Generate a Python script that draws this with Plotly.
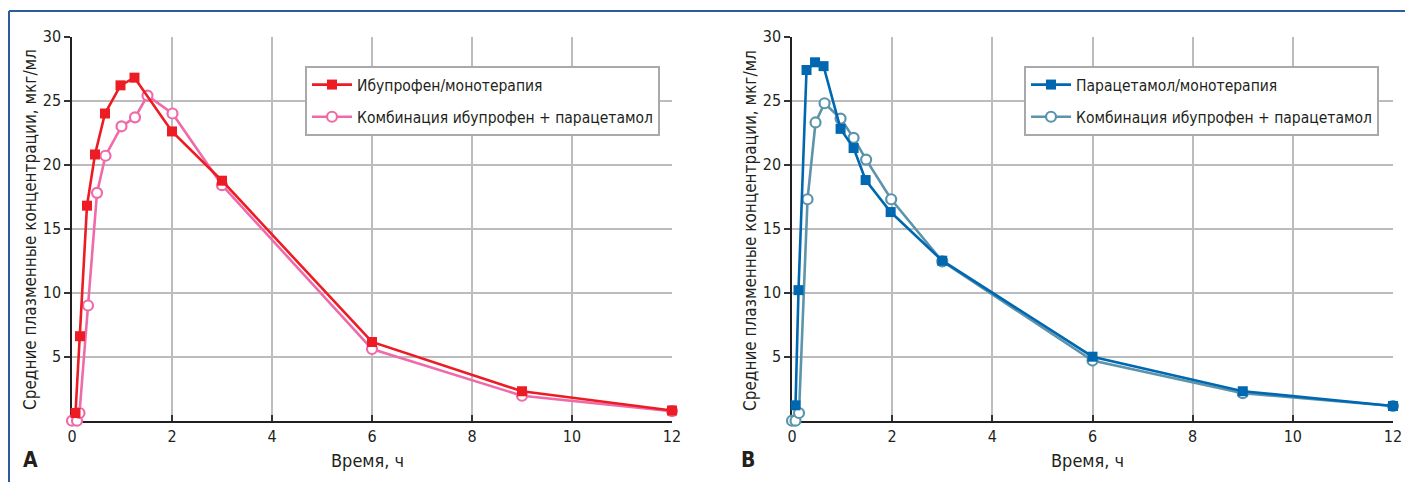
import plotly.graph_objects as go

# ---- Data ----
# Panel A: ibuprofen
ibu_mono_t = [0.07, 0.16, 0.30, 0.46, 0.66, 0.97, 1.25, 2.0, 3.0, 6.0, 9.0, 12.0]
ibu_mono_c = [0.6, 6.6, 16.8, 20.8, 24.0, 26.2, 26.8, 22.6, 18.75, 6.15, 2.3, 0.8]
ibu_combo_t = [0.0, 0.1, 0.15, 0.32, 0.5, 0.67, 0.99, 1.26, 1.51, 2.01, 3.0, 6.0, 9.0, 12.0]
ibu_combo_c = [0.0, 0.0, 0.6, 9.0, 17.8, 20.7, 23.0, 23.7, 25.4, 24.0, 18.4, 5.6, 1.95, 0.75]

# Panel B: paracetamol
par_mono_t = [0.07, 0.13, 0.29, 0.46, 0.63, 0.97, 1.23, 1.47, 1.97, 3.0, 6.0, 9.0, 12.0]
par_mono_c = [1.2, 10.2, 27.4, 28.0, 27.7, 22.8, 21.3, 18.8, 16.3, 12.5, 5.0, 2.3, 1.15]
par_combo_t = [0.0, 0.07, 0.14, 0.31, 0.47, 0.65, 0.97, 1.23, 1.48, 1.98, 3.0, 6.0, 9.0, 12.0]
par_combo_c = [0.0, 0.0, 0.6, 17.3, 23.3, 24.8, 23.6, 22.1, 20.4, 17.3, 12.45, 4.7, 2.15, 1.15]

x_ticks = [0, 2, 4, 6, 8, 10, 12]
y_ticks = [5, 10, 15, 20, 25, 30]

name_ibu_mono = "Ибупрофен/монотерапия"
name_par_mono = "Парацетамол/монотерапия"
name_combo = "Комбинация ибупрофен + парацетамол"
x_title = "Время, ч"
y_title = "Средние плазменные концентрации, мкг/мл"
panel_labels = ["A", "B"]

# ---- Styling ----
FONT = "DejaVu Sans Condensed, Liberation Sans Narrow, Roboto, sans-serif"
TXT = "#231f20"
RED = "#ed1c24"
PINK = "#f06aa9"
BLUE = "#0067b1"
TEAL = "#5b94ab"
GRID = "#bcbcbf"

W, H = 1405, 482

def px_x(p):
    return p / W

def px_y(p):
    return 1 - p / H

fig = go.Figure()

def combo_trace(xa, ya, legend, t, c, col):
    return go.Scatter(
        x=t, y=c, name=name_combo, mode="lines+markers", xaxis=xa, yaxis=ya,
        legend=legend, legendgroup="combo" + legend, legendrank=2,
        line=dict(color=col, width=2.6),
        marker=dict(symbol="circle", size=10, color="white",
                    line=dict(color=col, width=2.2)),
        cliponaxis=False,
    )

def mono_trace(xa, ya, legend, t, c, name, col):
    return go.Scatter(
        x=t, y=c, name=name, mode="lines+markers", xaxis=xa, yaxis=ya,
        legend=legend, legendgroup="mono" + legend, legendrank=1,
        line=dict(color=col, width=2.6),
        marker=dict(symbol="square", size=10, color=col),
        cliponaxis=False,
    )

fig.add_trace(combo_trace("x", "y", "legend", ibu_combo_t, ibu_combo_c, PINK))
fig.add_trace(mono_trace("x", "y", "legend", ibu_mono_t, ibu_mono_c, name_ibu_mono, RED))
fig.add_trace(combo_trace("x2", "y2", "legend2", par_combo_t, par_combo_c, TEAL))
fig.add_trace(mono_trace("x2", "y2", "legend2", par_mono_t, par_mono_c, name_par_mono, BLUE))

xa_common = dict(
    range=[0, 12], tickvals=x_ticks, showgrid=True, gridcolor=GRID, gridwidth=1.5,
    showline=True, linecolor="#231f20", linewidth=1.5, ticks="inside",
    ticklen=6, tickwidth=1.5, tickcolor="#333", zeroline=False,
    tickfont=dict(family=FONT, size=16, color=TXT), automargin=False,
    layer="below traces",
)
ya_common = dict(
    range=[0, 30], tickvals=y_ticks, showgrid=True, gridcolor=GRID, gridwidth=1.5,
    showline=True, linecolor="#231f20", linewidth=1.5, ticks="outside",
    ticklen=6, tickwidth=1.5, tickcolor="#333", zeroline=False,
    tickfont=dict(family=FONT, size=16, color=TXT), automargin=False,
    layer="below traces",
)

dom_a = [px_x(72), px_x(672)]
dom_b = [px_x(792), px_x(1393)]
dom_y = [px_y(420.7), px_y(36.7)]

legend_common = dict(
    xanchor="left", yanchor="top",
    bgcolor="white", bordercolor="#a7a9ac", borderwidth=2,
    font=dict(family=FONT, size=15.5, color=TXT),
    traceorder="grouped", tracegroupgap=9, itemwidth=40,
)

fig.update_layout(
    width=W, height=H,
    margin=dict(l=0, r=0, t=0, b=0),
    paper_bgcolor="white", plot_bgcolor="white",
    font=dict(family=FONT, color=TXT, size=16),
    xaxis=dict(domain=dom_a, anchor="y", **xa_common),
    yaxis=dict(domain=dom_y, anchor="x", **ya_common),
    xaxis2=dict(domain=dom_b, anchor="y2", **xa_common),
    yaxis2=dict(domain=dom_y, anchor="x2", **ya_common),
    legend=dict(x=px_x(305), y=px_y(66), **legend_common),
    legend2=dict(x=px_x(1024), y=px_y(66), **legend_common),
    showlegend=True,
)

annotations = []
for cx, lab_x, lab in [(30, 30, panel_labels[0]), (750, 748, panel_labels[1])]:
    annotations.append(dict(
        text=y_title, x=px_x(cx), y=px_y(230), xref="paper", yref="paper",
        textangle=-90, showarrow=False, xanchor="center", yanchor="middle",
        font=dict(family=FONT, size=17, color=TXT),
    ))
    annotations.append(dict(
        text="<b>" + lab + "</b>", x=px_x(lab_x), y=px_y(460), xref="paper", yref="paper",
        showarrow=False, xanchor="center", yanchor="middle",
        font=dict(family=FONT, size=21, color=TXT),
    ))
for cx in (367, 1087):
    annotations.append(dict(
        text=x_title, x=px_x(cx), y=px_y(460), xref="paper", yref="paper",
        showarrow=False, xanchor="center", yanchor="middle",
        font=dict(family=FONT, size=18, color=TXT),
    ))
fig.update_layout(annotations=annotations)

# blue frame around the figure (top and left edges visible)
FRAME = "#2b5d9c"
fig.add_shape(type="line", xref="paper", yref="paper",
              x0=px_x(9), x1=1.01, y0=px_y(11), y1=px_y(11),
              line=dict(color=FRAME, width=2))
fig.add_shape(type="line", xref="paper", yref="paper",
              x0=px_x(9), x1=px_x(9), y0=px_y(11), y1=-0.01,
              line=dict(color=FRAME, width=2))

# remove the default page margin so the figure fills the 1405x482 window
fig.write_html(
    "out.html",
    config={"displayModeBar": False},
    post_script="document.body.style.margin='0';document.body.style.overflow='hidden';",
)
